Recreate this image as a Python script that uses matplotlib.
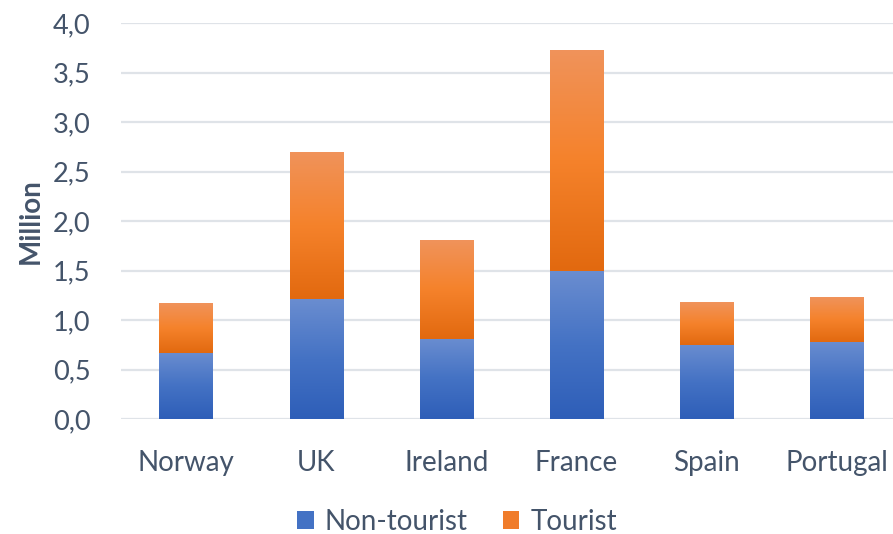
import matplotlib
matplotlib.use("Agg")
import matplotlib.pyplot as plt
import numpy as np
from matplotlib.colors import LinearSegmentedColormap
from matplotlib.patches import Patch

countries = ["Norway", "UK", "Ireland", "France", "Spain", "Portugal"]
non_tourist = [0.67, 1.21, 0.81, 1.49, 0.75, 0.78]
tourist = [0.50, 1.49, 1.00, 2.24, 0.43, 0.45]
yticks = [0.0, 0.5, 1.0, 1.5, 2.0, 2.5, 3.0, 3.5, 4.0]

plt.rcParams['font.family'] = ['Lato', 'DejaVu Sans']
txt = "#44546a"

fig = plt.figure(figsize=(8.93, 5.34), dpi=100)
ax = fig.add_axes([121 / 893, (534 - 419) / 534, 781 / 893, 396 / 534])

blue_cmap = LinearSegmentedColormap.from_list("b", ["#2e5eb8", "#4472c4", "#6a8dd0"])
orange_cmap = LinearSegmentedColormap.from_list("o", ["#e2690f", "#f5822b", "#f0935b"])

x = np.arange(len(countries))
w = 0.41
b1 = ax.bar(x, non_tourist, w, color="none", zorder=3)
b2 = ax.bar(x, tourist, w, bottom=non_tourist, color="none", zorder=3)

grad = np.linspace(0, 1, 256).reshape(-1, 1)
for bars, cmap in ((b1, blue_cmap), (b2, orange_cmap)):
    for r in bars:
        x0, y0 = r.get_x(), r.get_y()
        ww, hh = r.get_width(), r.get_height()
        im = ax.imshow(grad, cmap=cmap, aspect="auto", origin="lower",
                       extent=[x0, x0 + ww, y0, y0 + hh], zorder=3)
        im.set_clip_path(r)

ax.set_xlim(-0.5, len(countries) - 0.5)
ax.set_ylim(0, 4.0)
ax.set_yticks(yticks)
ax.set_yticklabels([f"{v:.1f}".replace(".", ",") for v in yticks])
ax.set_xticks(x)
ax.set_xticklabels(countries)
ax.tick_params(axis="x", length=0, labelsize=20, colors=txt, pad=22)
ax.tick_params(axis="y", length=0, labelsize=19.5, colors=txt, pad=22)
for s in ax.spines.values():
    s.set_visible(False)
ax.grid(axis="y", color="#dfe3e8", linewidth=1.6, zorder=0)
ax.set_axisbelow(True)
ax.set_ylabel("Million", fontsize=20, fontweight="bold", color=txt)
ax.yaxis.set_label_coords((44 - 121) / 781, 0.5)

handles = [Patch(facecolor="#4472c4", label="Non-tourist"),
           Patch(facecolor="#f07c2a", label="Tourist")]
leg = fig.legend(handles=handles, loc="center", bbox_to_anchor=(457 / 893, 1 - 522 / 534),
                 ncol=2, frameon=False, fontsize=20, handlelength=0.6, handleheight=0.6,
                 handletextpad=0.4, columnspacing=1.25)
for t in leg.get_texts():
    t.set_color(txt)

fig.savefig("out.png", dpi=100)
